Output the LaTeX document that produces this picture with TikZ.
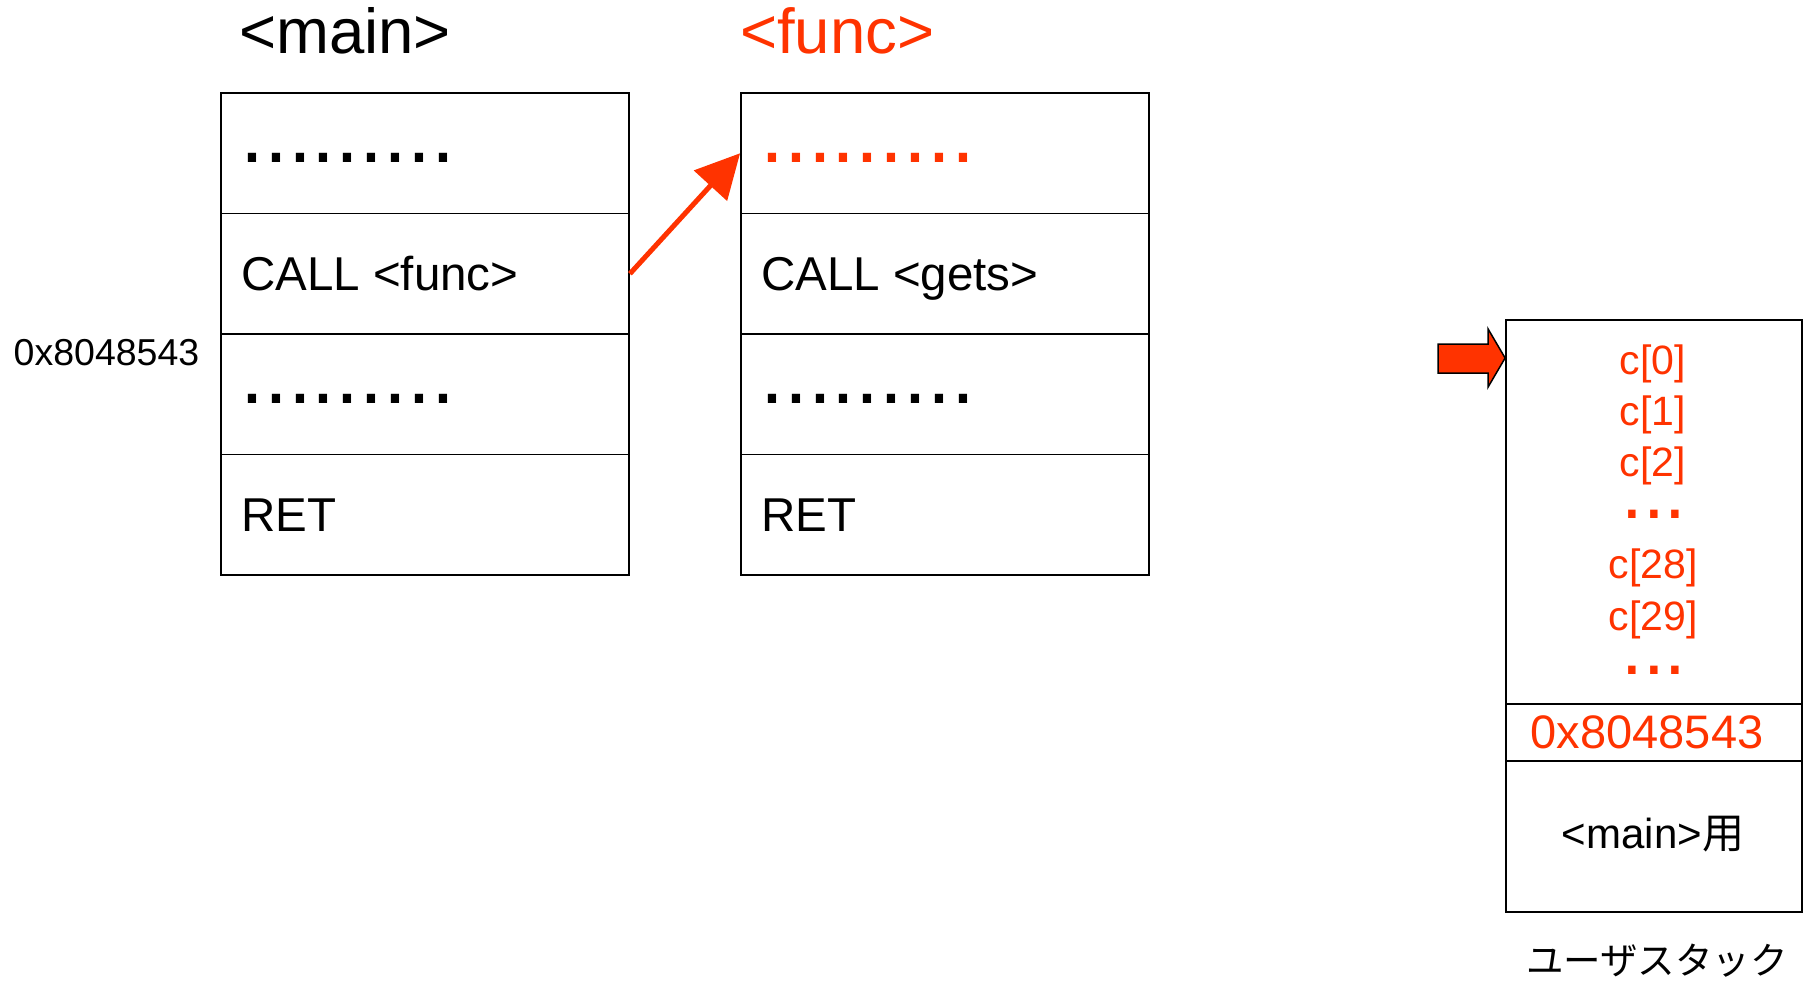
\documentclass[tikz,border=0pt]{standalone}
\usepackage{fontspec}
\setmainfont{Liberation Sans}
\newfontfamily\cjk{Noto Sans CJK JP}
\usetikzlibrary{arrows.meta}
\definecolor{hot}{RGB}{255,51,0}
\newcommand{\fsz}[1]{\fontsize{#1}{#1}\selectfont}
\tikzset{
  cell/.style={draw=black, line width=1.8pt, minimum width=408pt, minimum height=120.5pt, inner sep=0pt},
  stackcell/.style={draw=black, line width=1.8pt, minimum width=296pt, inner sep=0pt},
  txt/.style={inner sep=0pt, anchor=base west},
  title/.style={txt, font=\fsz{63.5}},
  instr/.style={txt, font=\fsz{47.5}},
  dotrow/.style={txt, font=\fsz{86}},
  slot/.style={inner sep=0pt, anchor=base, font=\fsz{41}, text=hot},
}
\begin{document}
\begin{tikzpicture}[x=1pt, y=-1pt]
\useasboundingbox (0,0) rectangle (1807,982);

% --- code of <main> ---
\node[cell] (m1) at (425,153.25) {};
\node[cell] (m2) at (425,273.75) {};
\node[cell] (m3) at (425,394.25) {};
\node[cell] (m4) at (425,514.75) {};
\node[title] (mtitle) at (239,54) {<main>};
\node[dotrow] (md1) at (240,162) {.........};
\node[instr] (mcall) at (241,290) {CALL <func>};
\node[dotrow] (md3) at (240,403) {.........};
\node[instr] (mret) at (241,531) {RET};
\node[txt, font=\fsz{37.5}] (retaddr) at (13.5,365) {0x8048543};

% --- code of <func> ---
\node[cell] (f1) at (945,153.25) {};
\node[cell] (f2) at (945,273.75) {};
\node[cell] (f3) at (945,394.25) {};
\node[cell] (f4) at (945,514.75) {};
\node[title, text=hot] (ftitle) at (740,54) {<func>};
\node[dotrow, text=hot] (fd1) at (760,162) {.........};
\node[instr] (fcall) at (761,290) {CALL <gets>};
\node[dotrow] (fd3) at (760,403) {.........};
\node[instr] (fret) at (761,531) {RET};

% call from main into func
\draw[hot, line width=5pt, -{Triangle[length=44pt, width=44pt]}] (m2.east) -- (f1.west);

% --- user stack ---
\node[stackcell, minimum height=384pt] (sbuf) at (1654,512) {};
\node[stackcell, minimum height=57pt] (sret) at (1654,732.5) {};
\node[stackcell, minimum height=151pt] (smain) at (1654,836.5) {};
\node[slot] (c0) at (1653,374) {c[0]};
\node[slot] (c1) at (1653,425) {c[1]};
\node[slot] (c2) at (1653,476) {c[2]};
\node[slot, font=\fsz{78}] (cd1) at (1654,518) {...};
\node[slot] (c28) at (1653,578) {c[28]};
\node[slot] (c29) at (1653,630) {c[29]};
\node[slot, font=\fsz{78}] (cd2) at (1654,674) {...};
\node[slot, font=\fsz{47}] (sretval) at (1647,748) {0x8048543};
\node[inner sep=0pt, anchor=base, font=\fsz{42}] (smainlbl) at (1653,848) {<main>{\cjk 用}};
\node[inner sep=0pt, anchor=base, font=\fsz{37.5}\cjk] (stacklbl) at (1657,974) {ユーザスタック};

% stack pointer
\coordinate (sp) at (sbuf.north west |- 0,358);
\draw[fill=hot, draw=black, line width=1.5pt, line join=miter]
  (sp) -- ++(-17,-29) -- ++(0,15) -- ++(-50,0) -- ++(0,29) -- ++(50,0) -- ++(0,14) -- cycle;
\end{tikzpicture}
\end{document}
